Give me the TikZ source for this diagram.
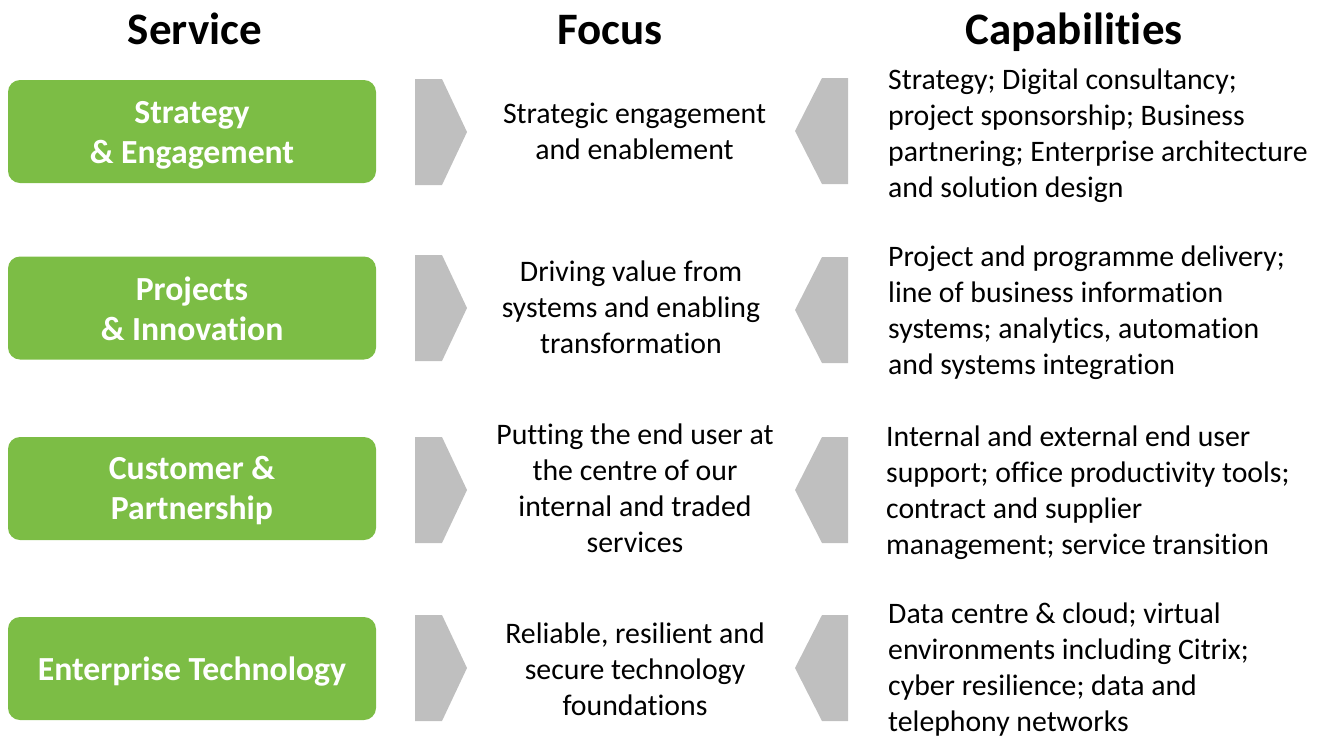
\documentclass[tikz,border=0pt]{standalone}
\usepackage{fontspec}
\setmainfont{Carlito}[Ligatures=NoCommon]
\definecolor{svcgreen}{HTML}{7CBD45}
\definecolor{chevgray}{HTML}{BFBFBF}
\tikzset{
  head/.style={font=\fontsize{45}{54}\selectfont\bfseries, anchor=base, inner sep=0pt},
  svcbox/.style={fill=svcgreen, rounded corners=12pt, minimum width=368pt,
    minimum height=103pt, inner sep=0pt},
  svclabel/.style={text=white, align=center, inner sep=0pt,
    font=\fontsize{33.7}{40}\selectfont\bfseries},
  focustext/.style={align=center, inner sep=0pt, font=\fontsize{29.8}{36}\selectfont},
  captext/.style={align=left, anchor=west, inner sep=0pt, font=\fontsize{29.75}{36}\selectfont},
  chev/.style={fill=chevgray}
}
% chevron pointing right towards the focus column (centre y = #1)
\newcommand\chevright[1]{\fill[chev] (415,#1-53) -- (442,#1-53) -- (467,#1) -- (442,#1+53) -- (415,#1+53) -- cycle;}
% chevron pointing left towards the focus column (centre y = #1)
\newcommand\chevleft[1]{\fill[chev] (848,#1-53) -- (822,#1-53) -- (795,#1) -- (822,#1+53) -- (848,#1+53) -- cycle;}
\begin{document}
\begin{tikzpicture}[x=1pt,y=-1pt]
\useasboundingbox (0,0) rectangle (1328,737);

% column headings
\node[head] (hsvc) at (195,44) {Service};
\node[head] (hfoc) at (610,44) {Focus};
\node[head] (hcap) at (1074,44) {Capabilities};

% service boxes
\node[svcbox] (s1) at (192,131.5) {};
\node[svcbox] (s2) at (192,308) {};
\node[svcbox] (s3) at (192,488.5) {};
\node[svcbox] (s4) at (192,668.5) {};
\node[svclabel] (s1t) at ([yshift=-4pt]s1.center) {Strategy\\ \& Engagement};
\node[svclabel] (s2t) at ([yshift=-1pt]s2.center) {Projects\\ \& Innovation};
\node[svclabel] (s3t) at ([yshift=-2pt]s3.center) {Customer \&\\ Partnership};
\node[svclabel] (s4t) at ([yshift=-3pt]s4.center) {Enterprise Technology};

% chevrons
\chevright{132}
\chevright{308}
\chevright{490}
\chevright{668}
\chevleft{131}
\chevleft{310}
\chevleft{490}
\chevleft{668}

% focus texts
\node[focustext] (f1) at (634.5,131) {Strategic engagement\\ and enablement};
\node[focustext] (f2) at (631,307) {Driving value from\\ systems and enabling\\ transformation};
\node[focustext] (f3) at (635,488.5) {Putting the end user at\\ the centre of our\\ internal and traded\\ services};
\node[focustext] (f4) at (635,669) {Reliable, resilient and\\ secure technology\\ foundations};

% capability texts
\node[captext] (c1) at (888,136) {Strategy; Digital consultancy;\\ project sponsorship; Business\\ partnering; Enterprise architecture\\ and solution design};
\node[captext] (c2) at (888,313) {Project and programme delivery;\\ line of business information\\ systems; analytics, automation\\ and systems integration};
\node[captext] (c3) at (886,493) {Internal and external end user\\ support; office productivity tools;\\ contract and supplier\\ management; service transition};
\node[captext] (c4) at (888,670) {Data centre \& cloud; virtual\\ environments including Citrix;\\ cyber resilience; data and\\ telephony networks};
\end{tikzpicture}
\end{document}
